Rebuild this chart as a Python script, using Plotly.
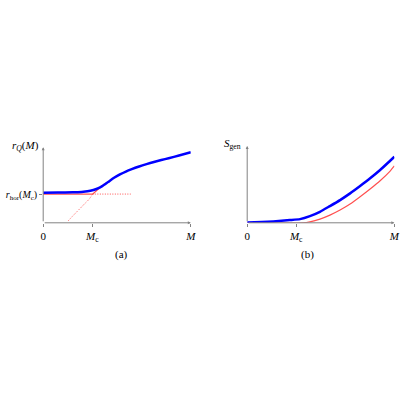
import plotly.graph_objects as go

# panel (a): r_Q(M) and the horizon radius
m_c = 0.333
r_hor_c = 0.38
m_a_blue = [0, 0.1, 0.2, 0.26, 0.3, 0.34, 0.37, 0.40, 0.44, 0.48, 0.52, 0.56, 0.6, 0.65, 0.7, 0.75, 0.8, 0.85, 0.92, 1.0]
rq_blue = [0.398, 0.400, 0.404, 0.409, 0.416, 0.434, 0.455, 0.485, 0.54, 0.595, 0.64, 0.678, 0.71, 0.745, 0.776, 0.804, 0.83, 0.854, 0.89, 0.934]
m_a_rise_dot = [0.17, 0.20, 0.23, 0.26, 0.283, 0.31, 0.333]
r_rise_dot = [0.027, 0.09, 0.15, 0.21, 0.257, 0.31, 0.375]
m_a_rise_solid = [0.333, 0.37, 0.407, 0.42]
r_rise_solid = [0.375, 0.44, 0.50, 0.515]
m_a_flat_solid = [0, 0.333]
m_a_flat_dot = [0.333, 0.593]

# panel (b): generalized entropy
m_b_blue = [0, 0.1, 0.177, 0.29, 0.359, 0.426, 0.494, 0.562, 0.631, 0.699, 0.767, 0.835, 0.903, 0.971, 1.0]
s_blue = [0.003, 0.01, 0.018, 0.035, 0.048, 0.087, 0.143, 0.218, 0.296, 0.383, 0.479, 0.579, 0.687, 0.808, 0.86]
m_b_red = [0, 0.381, 0.426, 0.494, 0.562, 0.631, 0.699, 0.767, 0.835, 0.903, 0.971, 1.0]
s_red = [0, 0, 0.013, 0.048, 0.1, 0.166, 0.244, 0.339, 0.44, 0.548, 0.674, 0.74]

BLUE = "rgb(0,0,255)"
RED = "rgb(255,80,80)"
GREY = "rgb(130,130,130)"
FONT = dict(family="Liberation Serif", size=11, color="black")
DOT = "1px,1.5px"

fig = go.Figure()

fig.add_trace(go.Scatter(x=m_a_flat_solid, y=[r_hor_c] * 2, mode="lines",
                         line=dict(color=RED, width=1.2), xaxis="x", yaxis="y"))
fig.add_trace(go.Scatter(x=m_a_flat_dot, y=[r_hor_c] * 2, mode="lines",
                         line=dict(color=RED, width=1, dash=DOT), xaxis="x", yaxis="y"))
fig.add_trace(go.Scatter(x=m_a_rise_dot, y=r_rise_dot, mode="lines",
                         line=dict(color=RED, width=1, dash=DOT, shape="spline"), xaxis="x", yaxis="y"))
fig.add_trace(go.Scatter(x=m_a_rise_solid, y=r_rise_solid, mode="lines",
                         line=dict(color=RED, width=1.2, shape="spline"), xaxis="x", yaxis="y"))
fig.add_trace(go.Scatter(x=m_a_blue, y=rq_blue, mode="lines",
                         line=dict(color=BLUE, width=2.5, shape="spline", smoothing=0.6), xaxis="x", yaxis="y"))

fig.add_trace(go.Scatter(x=m_b_red, y=s_red, mode="lines",
                         line=dict(color=RED, width=1.2, shape="spline", smoothing=0.5), xaxis="x2", yaxis="y2"))
fig.add_trace(go.Scatter(x=m_b_blue, y=s_blue, mode="lines",
                         line=dict(color=BLUE, width=2.5, shape="spline", smoothing=0.5), xaxis="x2", yaxis="y2"))

ax_common = dict(showgrid=False, zeroline=False, showline=False, ticks="outside",
                 ticklen=3, tickcolor=GREY, automargin=False)

fig.update_layout(
    width=400, height=400, margin=dict(l=0, r=0, t=0, b=0),
    paper_bgcolor="white", plot_bgcolor="white", showlegend=False,
    xaxis=dict(domain=[0.108, 0.477], range=[0, 1], anchor="y", tickfont=FONT,
               tickvals=[0, m_c, 1], ticktext=["0", "<i>M</i><sub>c</sub>", "<i>M</i>"], **ax_common),
    yaxis=dict(domain=[0.443, 0.632], range=[0, 1], anchor="x", tickfont=dict(FONT, size=10),
               tickvals=[r_hor_c], ticktext=["<i>r</i><sub>hor</sub>(<i>M</i><sub>c</sub>)"], **ax_common),
    xaxis2=dict(domain=[0.618, 0.986], range=[0, 1], anchor="y2", tickfont=FONT,
                tickvals=[0, m_c, 1], ticktext=["0", "<i>M</i><sub>c</sub>", "<i>M</i>"], **ax_common),
    yaxis2=dict(domain=[0.443, 0.635], range=[0, 1], anchor="x2",
                tickvals=[], **ax_common),
)

# axis arrows
for xr, yr in [("x", "y"), ("x2", "y2")]:
    fig.add_annotation(x=1, y=0, ax=0, ay=0, xref=xr, yref=yr, axref=xr, ayref=yr,
                       showarrow=True, arrowhead=2, arrowsize=0.6, arrowwidth=1,
                       arrowcolor=GREY, text="")
    fig.add_annotation(x=0, y=1, ax=0, ay=0, xref=xr, yref=yr, axref=xr, ayref=yr,
                       showarrow=True, arrowhead=2, arrowsize=0.6, arrowwidth=1,
                       arrowcolor=GREY, text="")

fig.add_annotation(x=0.102, y=0.635, xref="paper", yref="paper", xanchor="right", yanchor="middle",
                   text="<i>r</i><sub><i>Q</i></sub>(<i>M</i>)", showarrow=False, font=FONT)
fig.add_annotation(x=0.608, y=0.64, xref="paper", yref="paper", xanchor="right", yanchor="middle",
                   text="<i>S</i><sub>gen</sub>", showarrow=False, font=FONT)
fig.add_annotation(x=0.283, y=0.365, xref="paper", yref="paper", text="(a)",
                   showarrow=False, font=FONT)
fig.add_annotation(x=0.79, y=0.365, xref="paper", yref="paper", text="(b)",
                   showarrow=False, font=FONT)

# drop the default page margin so the 400x400 figure fills the window
fig.write_html("out.html", config={"displayModeBar": False},
               post_script="document.body.style.margin='0';")
